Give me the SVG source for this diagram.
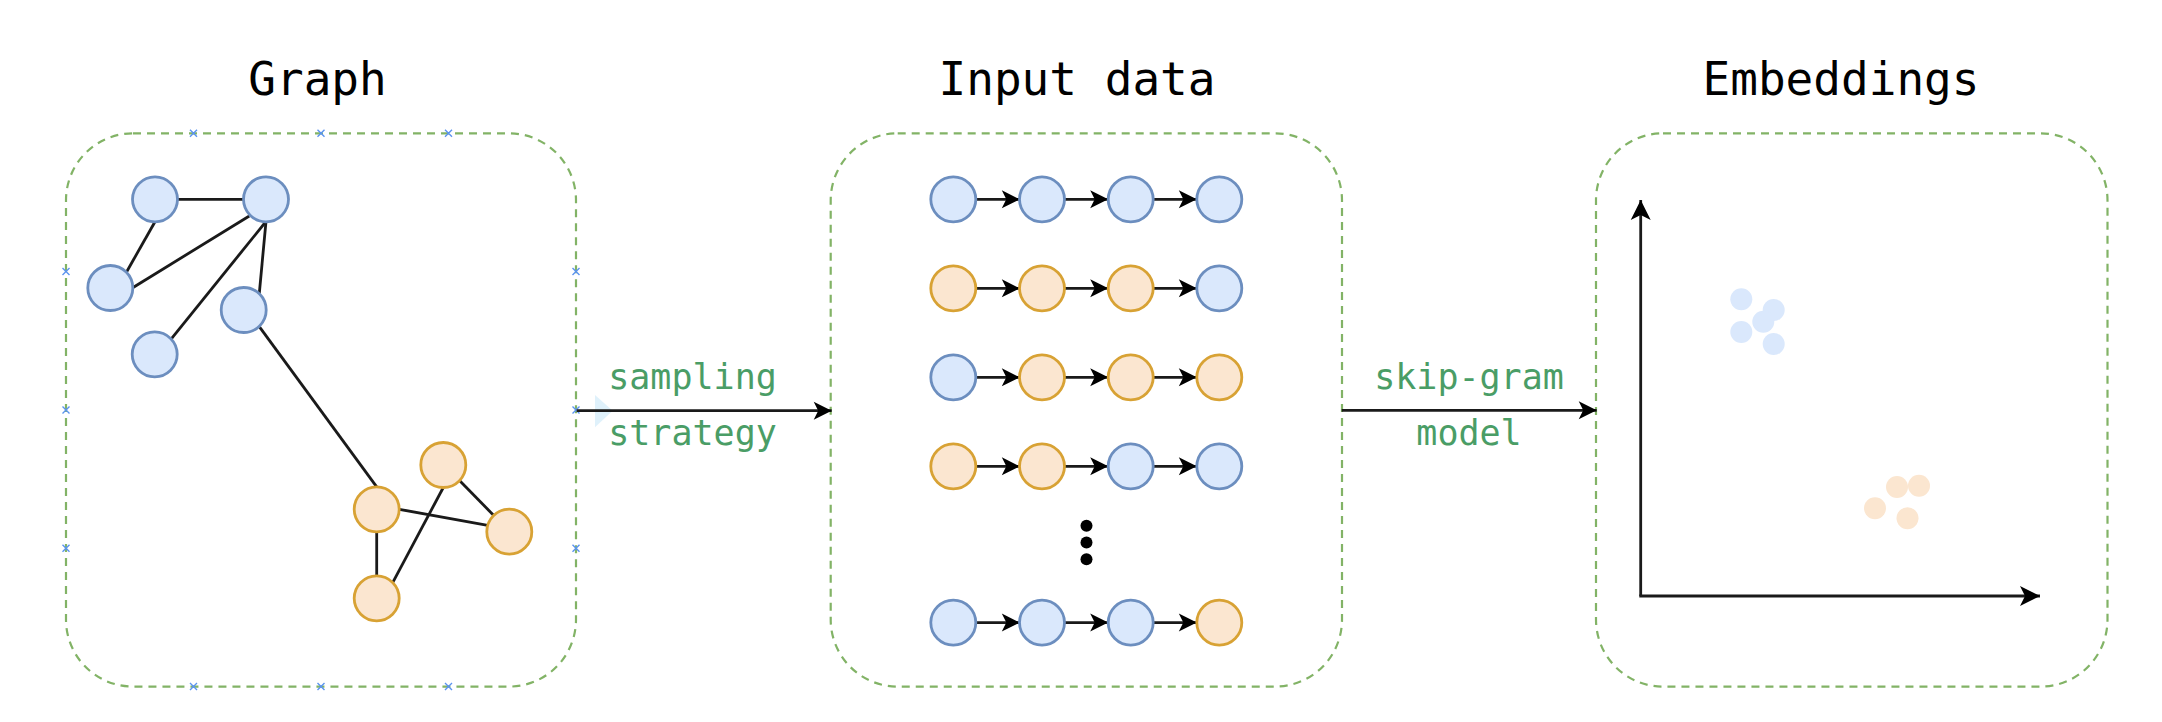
<svg xmlns="http://www.w3.org/2000/svg" width="2162" height="722" viewBox="0 0 2162 722">
<style>
.box{fill:none;stroke:#82b366;stroke-width:2.2;stroke-dasharray:8 6}
.bn{fill:#dae8fc;stroke:#6c8ebf;stroke-width:2.8}
.on{fill:#fbe6d0;stroke:#d8a234;stroke-width:2.8}
.e{stroke:#1a1a1a;stroke-width:2.8;fill:none}
.ea{stroke:#1a1a1a;stroke-width:2.8;fill:none;marker-end:url(#arr)}
.ax{stroke:#1a1a1a;stroke-width:2.8;fill:none;marker-end:url(#arrL)}
.title{font-family:"DejaVu Sans Mono","Liberation Mono",monospace;font-size:46px;fill:#000;text-anchor:middle}
.lbl{font-family:"DejaVu Sans Mono","Liberation Mono",monospace;font-size:35px;fill:#4a9d66;text-anchor:middle}
.bd{fill:#dae8fc}
.od{fill:#fbe6d0}
.xm{stroke:#5b93f0;stroke-width:1.4;fill:none}
</style>
<defs>
<marker id="arr" viewBox="-19 -10 20 20" refX="0" refY="0" markerWidth="20" markerHeight="20" markerUnits="userSpaceOnUse" orient="auto">
<path d="M0,0 L-18,-9 L-13.5,0 L-18,9 Z" fill="#000"/>
</marker>
<marker id="arrL" viewBox="-21 -11 22 22" refX="0" refY="0" markerWidth="22" markerHeight="22" markerUnits="userSpaceOnUse" orient="auto">
<path d="M0,0 L-20,-10 L-15,0 L-20,10 Z" fill="#000"/>
</marker>
<path id="x" class="xm" d="M-3.5,-3.5 L3.5,3.5 M-3.5,3.5 L3.5,-3.5"/>
</defs>
<rect width="2162" height="722" fill="#fff"/>

<!-- titles -->
<g id="titles">
<text class="title" x="317.5" y="95">Graph</text>
<text class="title" x="1077" y="95">Input data</text>
<text class="title" x="1841" y="95">Embeddings</text>
</g>

<!-- containers -->
<g id="graph-box"><rect class="box" x="66" y="133.3" width="510" height="553.3" rx="67"/></g>
<g id="input-box"><rect class="box" x="830.7" y="133.3" width="511.3" height="553.3" rx="67"/></g>
<g id="embed-box"><rect class="box" x="1596" y="133.3" width="511.5" height="553.3" rx="67"/></g>

<!-- selection markers on graph box -->
<g id="markers">
<use href="#x" x="193.5" y="133.3"/><use href="#x" x="321" y="133.3"/><use href="#x" x="448.5" y="133.3"/>
<use href="#x" x="193.5" y="686.6"/><use href="#x" x="321" y="686.6"/><use href="#x" x="448.5" y="686.6"/>
<use href="#x" x="66" y="271.6"/><use href="#x" x="66" y="410"/><use href="#x" x="66" y="548.3"/>
<use href="#x" x="576" y="271.6"/><use href="#x" x="576" y="410"/><use href="#x" x="576" y="548.3"/>
<path d="M595,395 L612.7,410.7 L595,427.3 Z" fill="#29a3e6" fill-opacity="0.15"/>
</g>

<!-- connectors -->
<g id="connectors">
<line class="e" x1="177.5" y1="199.3" x2="243.5" y2="199.3"/>
<line class="e" x1="155" y1="221.7" x2="126.7" y2="271.7"/>
<line class="e" x1="249.3" y1="216" x2="132.7" y2="287.7"/>
<line class="e" x1="266" y1="221.5" x2="171.7" y2="338.3"/>
<line class="e" x1="266" y1="221.5" x2="259.3" y2="293.3"/>
<line class="e" x1="259.3" y1="326.7" x2="376.7" y2="486.8"/>
<line class="e" x1="399.3" y1="509.3" x2="487.7" y2="525.3"/>
<line class="e" x1="460" y1="481" x2="494" y2="515.7"/>
<line class="e" x1="376.7" y1="531.8" x2="376.7" y2="575.8"/>
<line class="e" x1="443.3" y1="487.5" x2="392.7" y2="582.7"/>
<line class="ea" x1="576.7" y1="410.7" x2="831.7" y2="410.7"/>
<line class="ea" x1="1341.7" y1="410.3" x2="1596.7" y2="410.3"/>
<g id="chain-arrows">
<line class="ea" x1="975.8" y1="199.3" x2="1019.8" y2="199.3"/><line class="ea" x1="1064.5" y1="199.3" x2="1108.2" y2="199.3"/><line class="ea" x1="1153.2" y1="199.3" x2="1196.8" y2="199.3"/>
<line class="ea" x1="975.8" y1="288.3" x2="1019.8" y2="288.3"/><line class="ea" x1="1064.5" y1="288.3" x2="1108.2" y2="288.3"/><line class="ea" x1="1153.2" y1="288.3" x2="1196.8" y2="288.3"/>
<line class="ea" x1="975.8" y1="377.3" x2="1019.8" y2="377.3"/><line class="ea" x1="1064.5" y1="377.3" x2="1108.2" y2="377.3"/><line class="ea" x1="1153.2" y1="377.3" x2="1196.8" y2="377.3"/>
<line class="ea" x1="975.8" y1="466.3" x2="1019.8" y2="466.3"/><line class="ea" x1="1064.5" y1="466.3" x2="1108.2" y2="466.3"/><line class="ea" x1="1153.2" y1="466.3" x2="1196.8" y2="466.3"/>
<line class="ea" x1="975.8" y1="622.6" x2="1019.8" y2="622.6"/><line class="ea" x1="1064.5" y1="622.6" x2="1108.2" y2="622.6"/><line class="ea" x1="1153.2" y1="622.6" x2="1196.8" y2="622.6"/>
</g>
<line class="ax" x1="1640.7" y1="596" x2="1640.7" y2="200"/>
<line class="ax" x1="1639.3" y1="596" x2="2040" y2="596"/>
</g>

<!-- edge labels -->
<g id="labels">
<text class="lbl" x="692.5" y="389">sampling</text>
<text class="lbl" x="692.5" y="445">strategy</text>
<text class="lbl" x="1469" y="389">skip-gram</text>
<text class="lbl" x="1469" y="445">model</text>
</g>

<!-- graph nodes -->
<g id="graph-nodes">
<g id="gA"><circle class="bn" cx="155" cy="199.3" r="22.5"/></g>
<g id="gB"><circle class="bn" cx="266" cy="199.3" r="22.5"/></g>
<g id="gC"><circle class="bn" cx="110.3" cy="288" r="22.5"/></g>
<g id="gD"><circle class="bn" cx="243.7" cy="310" r="22.5"/></g>
<g id="gE"><circle class="bn" cx="154.7" cy="354.3" r="22.5"/></g>
<g id="gF"><circle class="on" cx="376.7" cy="509.3" r="22.5"/></g>
<g id="gG"><circle class="on" cx="443.3" cy="465" r="22.5"/></g>
<g id="gH"><circle class="on" cx="509.3" cy="531.7" r="22.5"/></g>
<g id="gI"><circle class="on" cx="376.7" cy="598.3" r="22.5"/></g>
</g>

<!-- walks -->
<g id="walks">
<g id="w1"><circle class="bn" cx="953.3" cy="199.3" r="22.5"/><circle class="bn" cx="1042" cy="199.3" r="22.5"/><circle class="bn" cx="1130.7" cy="199.3" r="22.5"/><circle class="bn" cx="1219.3" cy="199.3" r="22.5"/></g>
<g id="w2"><circle class="on" cx="953.3" cy="288.3" r="22.5"/><circle class="on" cx="1042" cy="288.3" r="22.5"/><circle class="on" cx="1130.7" cy="288.3" r="22.5"/><circle class="bn" cx="1219.3" cy="288.3" r="22.5"/></g>
<g id="w3"><circle class="bn" cx="953.3" cy="377.3" r="22.5"/><circle class="on" cx="1042" cy="377.3" r="22.5"/><circle class="on" cx="1130.7" cy="377.3" r="22.5"/><circle class="on" cx="1219.3" cy="377.3" r="22.5"/></g>
<g id="w4"><circle class="on" cx="953.3" cy="466.3" r="22.5"/><circle class="on" cx="1042" cy="466.3" r="22.5"/><circle class="bn" cx="1130.7" cy="466.3" r="22.5"/><circle class="bn" cx="1219.3" cy="466.3" r="22.5"/></g>
<g id="ellipsis"><circle cx="1086.5" cy="525.7" r="6" fill="#000"/><circle cx="1086.5" cy="542.4" r="6" fill="#000"/><circle cx="1086.5" cy="559.3" r="6" fill="#000"/></g>
<g id="w5"><circle class="bn" cx="953.3" cy="622.6" r="22.5"/><circle class="bn" cx="1042" cy="622.6" r="22.5"/><circle class="bn" cx="1130.7" cy="622.6" r="22.5"/><circle class="on" cx="1219.3" cy="622.6" r="22.5"/></g>
</g>

<!-- embeddings -->
<g id="embeddings">
<g id="blue-cluster">
<circle class="bd" cx="1741.3" cy="299.3" r="11"/>
<circle class="bd" cx="1773.7" cy="310" r="11"/>
<circle class="bd" cx="1763.3" cy="321.7" r="11"/>
<circle class="bd" cx="1741.3" cy="332" r="11"/>
<circle class="bd" cx="1773.7" cy="344" r="11"/>
</g>
<g id="orange-cluster">
<circle class="od" cx="1875" cy="508.3" r="11"/>
<circle class="od" cx="1897" cy="487" r="11"/>
<circle class="od" cx="1919" cy="485.7" r="11"/>
<circle class="od" cx="1907.5" cy="518.3" r="11"/>
</g>
</g>
</svg>
